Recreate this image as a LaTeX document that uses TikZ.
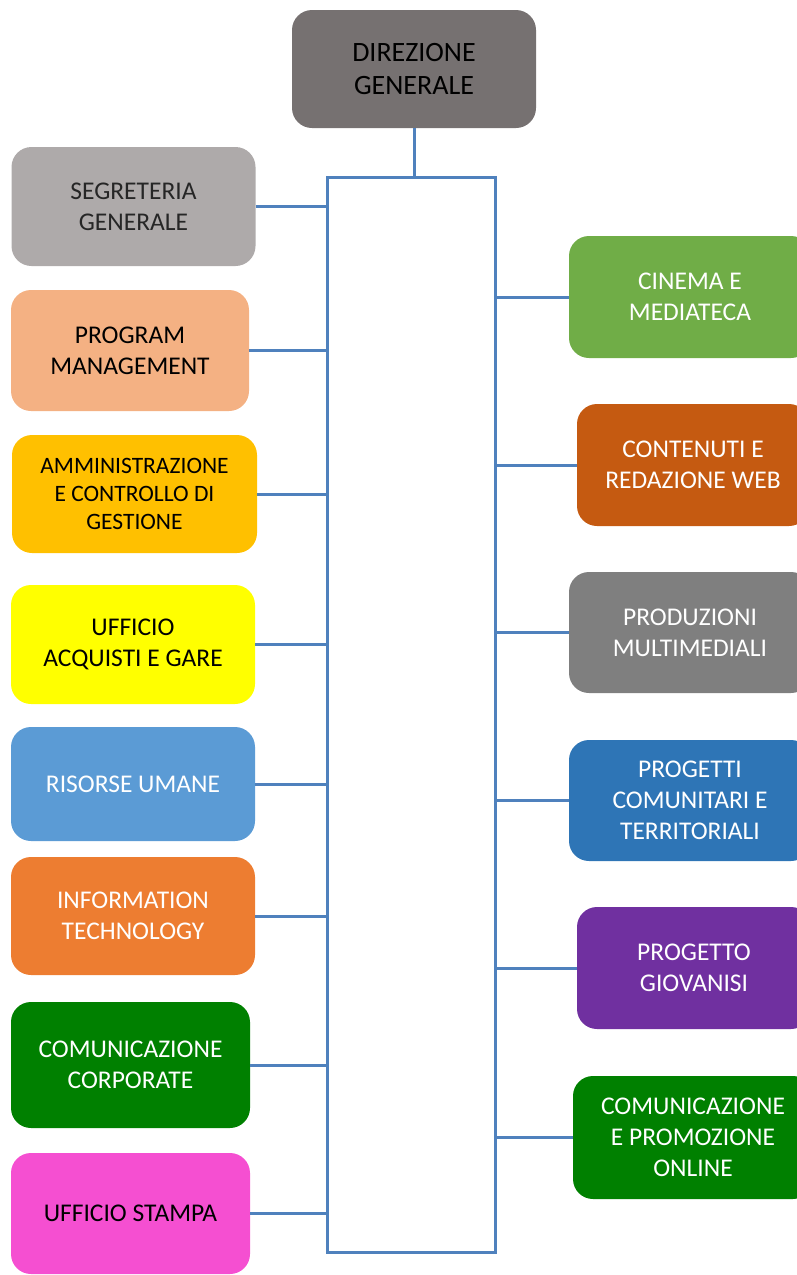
\documentclass[tikz,border=0pt]{standalone}
\usepackage{fontspec}
\setmainfont{Carlito}
\usetikzlibrary{positioning}

\definecolor{dirgray}{HTML}{767171}
\definecolor{seggray}{HTML}{AEAAAA}
\definecolor{peach}{HTML}{F4B183}
\definecolor{gold}{HTML}{FFC000}
\definecolor{lemon}{HTML}{FFFF00}
\definecolor{skyblue}{HTML}{5B9BD5}
\definecolor{tangerine}{HTML}{ED7D31}
\definecolor{leafgreen}{HTML}{008000}
\definecolor{magentapink}{HTML}{F54FD1}
\definecolor{grassgreen}{HTML}{70AD47}
\definecolor{rust}{HTML}{C55A11}
\definecolor{midgray}{HTML}{7F7F7F}
\definecolor{steelblue}{HTML}{2E75B6}
\definecolor{violet}{HTML}{7030A0}
\definecolor{linkblue}{HTML}{4F81BD}

\tikzset{
  unit/.style={rounded corners=20pt, minimum width=244pt, minimum height=119pt, inner sep=2pt, align=center},
  link/.style={draw=linkblue, line width=3pt}
}

\begin{document}
\begin{tikzpicture}[x=1pt, y=-1pt, every node/.style={font=\fontsize{25.5}{31}\selectfont}]
        \useasboundingbox (0,0) rectangle (797,1275);
        \clip (0,0) rectangle (797,1275);

        % Top
        \node[unit, fill=dirgray, minimum height=118pt, font=\fontsize{28}{33}\selectfont] (dg) at (414,69) {DIREZIONE\\GENERALE};

        % Central frame
        \node[draw=linkblue, line width=3pt, minimum width=168pt, minimum height=1075pt, inner sep=0pt] (spine) at (411,714.5) {};

        % Left units
        \node[unit, fill=seggray, text=black!85] (seg) at (133.5,206.5) {SEGRETERIA\\GENERALE};
        \node[unit, fill=peach, minimum width=238pt, minimum height=121pt] (prog) at (130,350.5) {PROGRAM\\MANAGEMENT};
        \node[unit, fill=gold, minimum width=245pt, minimum height=118pt, font=\fontsize{23.5}{28}\selectfont] (amm) at (134.5,494) {AMMINISTRAZIONE\\E CONTROLLO DI\\GESTIONE};
        \node[unit, fill=lemon] (acq) at (133,644.5) {UFFICIO\\ACQUISTI E GARE};
        \node[unit, fill=skyblue, text=white, minimum height=114pt] (hr) at (133,784) {RISORSE UMANE};
        \node[unit, fill=tangerine, text=white, minimum height=118pt] (it) at (133,916) {INFORMATION\\TECHNOLOGY};
        \node[unit, fill=leafgreen, text=white, minimum width=239pt, minimum height=126pt] (corp) at (130.5,1065) {COMUNICAZIONE\\CORPORATE};
        \node[unit, fill=magentapink, minimum width=239pt, minimum height=121pt] (press) at (130.5,1213.5) {UFFICIO STAMPA};

        % Right units
        \node[unit, fill=grassgreen, text=white, minimum width=242pt, minimum height=122pt] (cine) at (690,297) {CINEMA E\\MEDIATECA};
        \node[unit, fill=rust, text=white, minimum width=232pt, minimum height=122pt] (web) at (693,465) {CONTENUTI E\\REDAZIONE WEB};
        \node[unit, fill=midgray, text=white, minimum width=242pt, minimum height=121pt] (media) at (690,632.5) {PRODUZIONI\\MULTIMEDIALI};
        \node[unit, fill=steelblue, text=white, minimum width=242pt, minimum height=121pt] (eu) at (690,800.5) {PROGETTI\\COMUNITARI E\\TERRITORIALI};
        \node[unit, fill=violet, text=white, minimum width=234pt, minimum height=122pt] (giov) at (694,968) {PROGETTO\\GIOVANISI};
        \node[unit, fill=leafgreen, text=white, minimum width=240pt, minimum height=123pt] (online) at (693,1137.5) {COMUNICAZIONE\\E PROMOZIONE\\ONLINE};

        % Connectors
        \draw[link] (dg.south) -- (dg.south |- spine.north);

        \draw[link] (seg.east) -- (seg.east -| spine.west);
        \draw[link] (prog.east) -- (prog.east -| spine.west);
        \draw[link] (amm.east) -- (amm.east -| spine.west);
        \draw[link] (acq.east) -- (acq.east -| spine.west);
        \draw[link] (hr.east) -- (hr.east -| spine.west);
        \draw[link] (it.east) -- (it.east -| spine.west);
        \draw[link] (corp.east) -- (corp.east -| spine.west);
        \draw[link] (press.east) -- (press.east -| spine.west);

        \draw[link] (cine.west -| spine.east) -- (cine.west);
        \draw[link] (web.west -| spine.east) -- (web.west);
        \draw[link] (media.west -| spine.east) -- (media.west);
        \draw[link] (eu.west -| spine.east) -- (eu.west);
        \draw[link] (giov.west -| spine.east) -- (giov.west);
        \draw[link] (online.west -| spine.east) -- (online.west);
    \end{tikzpicture}
\end{document}
